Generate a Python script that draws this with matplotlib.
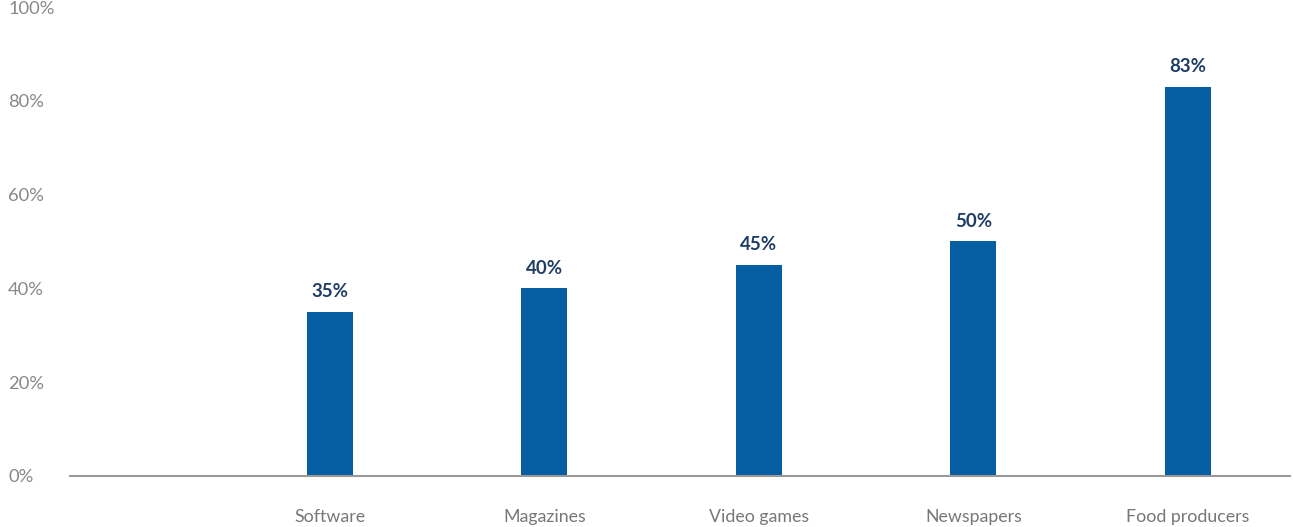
import matplotlib.pyplot as plt

plt.rcParams["font.family"] = ["Lato", "DejaVu Sans"]

categories = ["Software", "Magazines", "Video games", "Newspapers", "Food producers"]
values = [35, 40, 45, 50, 83]
value_labels = ["35%", "40%", "45%", "50%", "83%"]
y_ticks = [0, 20, 40, 60, 80, 100]
y_tick_labels = ["0%", "20%", "40%", "60%", "80%", "100%"]

W, H = 1293, 527
fig = plt.figure(figsize=(W / 100, H / 100), dpi=100)
ax = fig.add_axes([70 / W, 51 / H, (1290 - 70) / W, 469 / H])

x = list(range(len(categories)))
ax.bar(x, values, width=0.214, color="#055da2", zorder=2)

for xi, v, lab in zip(x, values, value_labels):
    ax.annotate(lab, (xi, v), xytext=(0, 8.5), textcoords="offset points",
                ha="center", va="bottom", fontsize=13.5, fontweight="bold",
                color="#1f3d64")

ax.set_xlim(-1.212, 4.476)
ax.set_ylim(0, 100)
ax.set_xticks(x)
ax.set_xticklabels(categories, fontsize=12.8, color="#777777")
ax.set_yticks(y_ticks)
ax.set_yticklabels(y_tick_labels, fontsize=13.2, color="#888888")
ax.tick_params(axis="x", length=0, pad=23.5)
ax.tick_params(axis="y", length=0, pad=44.6)
for t in ax.get_yticklabels():
    t.set_ha("left")

for s in ["top", "right", "left"]:
    ax.spines[s].set_visible(False)
ax.spines["bottom"].set_color("#999999")
ax.spines["bottom"].set_linewidth(1.5)

fig.savefig("out.png", dpi=100)
